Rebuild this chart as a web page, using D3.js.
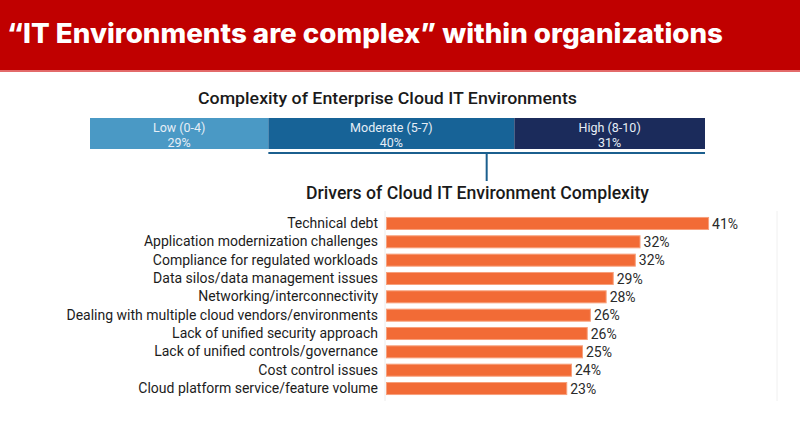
<!DOCTYPE html>
<html>
<head>
<meta charset="utf-8">
<script src="https://cdn.jsdelivr.net/npm/d3@7"></script>
<style>
  html, body { margin: 0; padding: 0; background: #ffffff; }
  svg { display: block; }
</style>
</head>
<body>
<svg id="chart" width="800" height="446"></svg>
<script>
// ---- data ----
const headline = "\u201CIT Environments are complex\u201D within organizations";
const complexityTitle = "Complexity of Enterprise Cloud IT Environments";
const complexityLevels = ["Low (0-4)", "Moderate (5-7)", "High (8-10)"];
const complexityShares = [29, 40, 31];
const driversTitle = "Drivers of Cloud IT Environment Complexity";
const drivers = [
  "Technical debt",
  "Application modernization challenges",
  "Compliance for regulated workloads",
  "Data silos/data management issues",
  "Networking/interconnectivity",
  "Dealing with multiple cloud vendors/environments",
  "Lack of unified security approach",
  "Lack of unified controls/governance",
  "Cost control issues",
  "Cloud platform service/feature volume"
];
const driverValues = [41.0, 32.3, 31.7, 28.9, 28.0, 26.0, 25.6, 25.0, 23.6, 23.0];

// ---- drawing ----
const svg = d3.select("#chart");
const W = 800, H = 446;
const bodyFont = "Roboto, 'Noto Sans', sans-serif";

// header banner
svg.append("rect").attr("x", 0).attr("y", 0).attr("width", W).attr("height", 70).attr("fill", "#c00000");
svg.append("rect").attr("x", 0).attr("y", 70).attr("width", W).attr("height", 2).attr("fill", "#e36a6a");
svg.append("text")
  .attr("x", 7).attr("y", 43)
  .attr("fill", "#ffffff")
  .attr("font-family", "Inter, 'Open Sans', sans-serif")
  .attr("font-weight", 800)
  .attr("font-size", 27)
  .attr("textLength", 716)
  .attr("lengthAdjust", "spacingAndGlyphs")
  .text(headline);

// stacked complexity bar
const xs = d3.scaleLinear().domain([0, 100]).range([90, 705]);
const stackColors = d3.scaleOrdinal().domain(complexityLevels).range(["#4a99c5", "#176397", "#1b2b5b"]);
const cum = d3.cumsum([0, ...complexityShares]);
const segs = complexityLevels.map((lvl, i) => ({ lvl, v: complexityShares[i], s: cum[i], e: cum[i + 1] }));

svg.append("text")
  .attr("x", 387.5).attr("y", 104)
  .attr("text-anchor", "middle")
  .attr("fill", "#1a1a1a")
  .attr("font-family", bodyFont)
  .attr("font-weight", 500)
  .attr("font-size", 17)
  .attr("textLength", 379)
  .attr("lengthAdjust", "spacingAndGlyphs")
  .text(complexityTitle);

const sg = svg.append("g");
sg.selectAll("rect").data(segs).join("rect")
  .attr("x", d => xs(d.s)).attr("y", 118)
  .attr("width", d => xs(d.e) - xs(d.s)).attr("height", 31)
  .attr("fill", d => stackColors(d.lvl));
sg.selectAll("text.l1").data(segs).join("text").attr("class", "l1")
  .attr("x", d => (xs(d.s) + xs(d.e)) / 2).attr("y", 131.5)
  .attr("text-anchor", "middle").attr("fill", "#e6eef6")
  .attr("font-family", bodyFont).attr("font-size", 12.5)
  .text(d => d.lvl);
sg.selectAll("text.l2").data(segs).join("text").attr("class", "l2")
  .attr("x", d => (xs(d.s) + xs(d.e)) / 2).attr("y", 147)
  .attr("text-anchor", "middle").attr("fill", "#e6eef6")
  .attr("font-family", bodyFont).attr("font-size", 12.5)
  .text(d => d.v + "%");

// bracket under moderate + high
const bx0 = xs(cum[1]), bx1 = xs(100);
svg.append("line").attr("x1", bx0).attr("x2", bx1).attr("y1", 153).attr("y2", 153)
  .attr("stroke", "#1b5f8e").attr("stroke-width", 2);
svg.append("line").attr("x1", (bx0 + bx1) / 2).attr("x2", (bx0 + bx1) / 2).attr("y1", 153).attr("y2", 181)
  .attr("stroke", "#1b5f8e").attr("stroke-width", 2);

// drivers title
svg.append("text")
  .attr("x", 477.5).attr("y", 199)
  .attr("text-anchor", "middle")
  .attr("fill", "#1a1a1a")
  .attr("font-family", bodyFont)
  .attr("font-weight", 500)
  .attr("font-size", 18)
  .attr("textLength", 343)
  .attr("lengthAdjust", "spacingAndGlyphs")
  .text(driversTitle);

// horizontal bar chart
const x = d3.scaleLinear().domain([0, 45]).range([386, 386 + 45 * 7.88]);
const y = d3.scaleBand().domain(drivers).range([214.3, 397.7]).paddingInner(0.29).paddingOuter(0.145);

// faint frame lines
svg.append("line").attr("x1", 385).attr("x2", 385).attr("y1", 211).attr("y2", 401)
  .attr("stroke", "#ececec").attr("stroke-width", 1);
svg.append("line").attr("x1", 777).attr("x2", 777).attr("y1", 211).attr("y2", 401)
  .attr("stroke", "#f0f0f0").attr("stroke-width", 1);

const bg = svg.append("g");
bg.selectAll("rect").data(drivers).join("rect")
  .attr("x", x(0) + 0.5)
  .attr("y", d => y(d) + 0.5)
  .attr("width", (d, i) => x(driverValues[i]) - x(0) - 1)
  .attr("height", y.bandwidth() - 1)
  .attr("fill", "#f26b36")
  .attr("stroke", "#f7a07c")
  .attr("stroke-width", 1);

const yAxis = d3.axisLeft(y).tickSize(0).tickPadding(8);
const ag = svg.append("g").attr("transform", `translate(${x(0)},0)`).call(yAxis);
ag.select(".domain").remove();
ag.selectAll("text")
  .attr("fill", "#1c1c1c")
  .attr("font-family", bodyFont)
  .attr("font-size", 14);

bg.selectAll("text").data(drivers).join("text")
  .attr("x", (d, i) => x(driverValues[i]) + 3)
  .attr("y", d => y(d) + y.bandwidth() / 2)
  .attr("dy", "0.36em")
  .attr("fill", "#2a2a2a")
  .attr("font-family", bodyFont)
  .attr("font-size", 14)
  .text((d, i) => Math.round(driverValues[i]) + "%");
</script>
</body>
</html>
